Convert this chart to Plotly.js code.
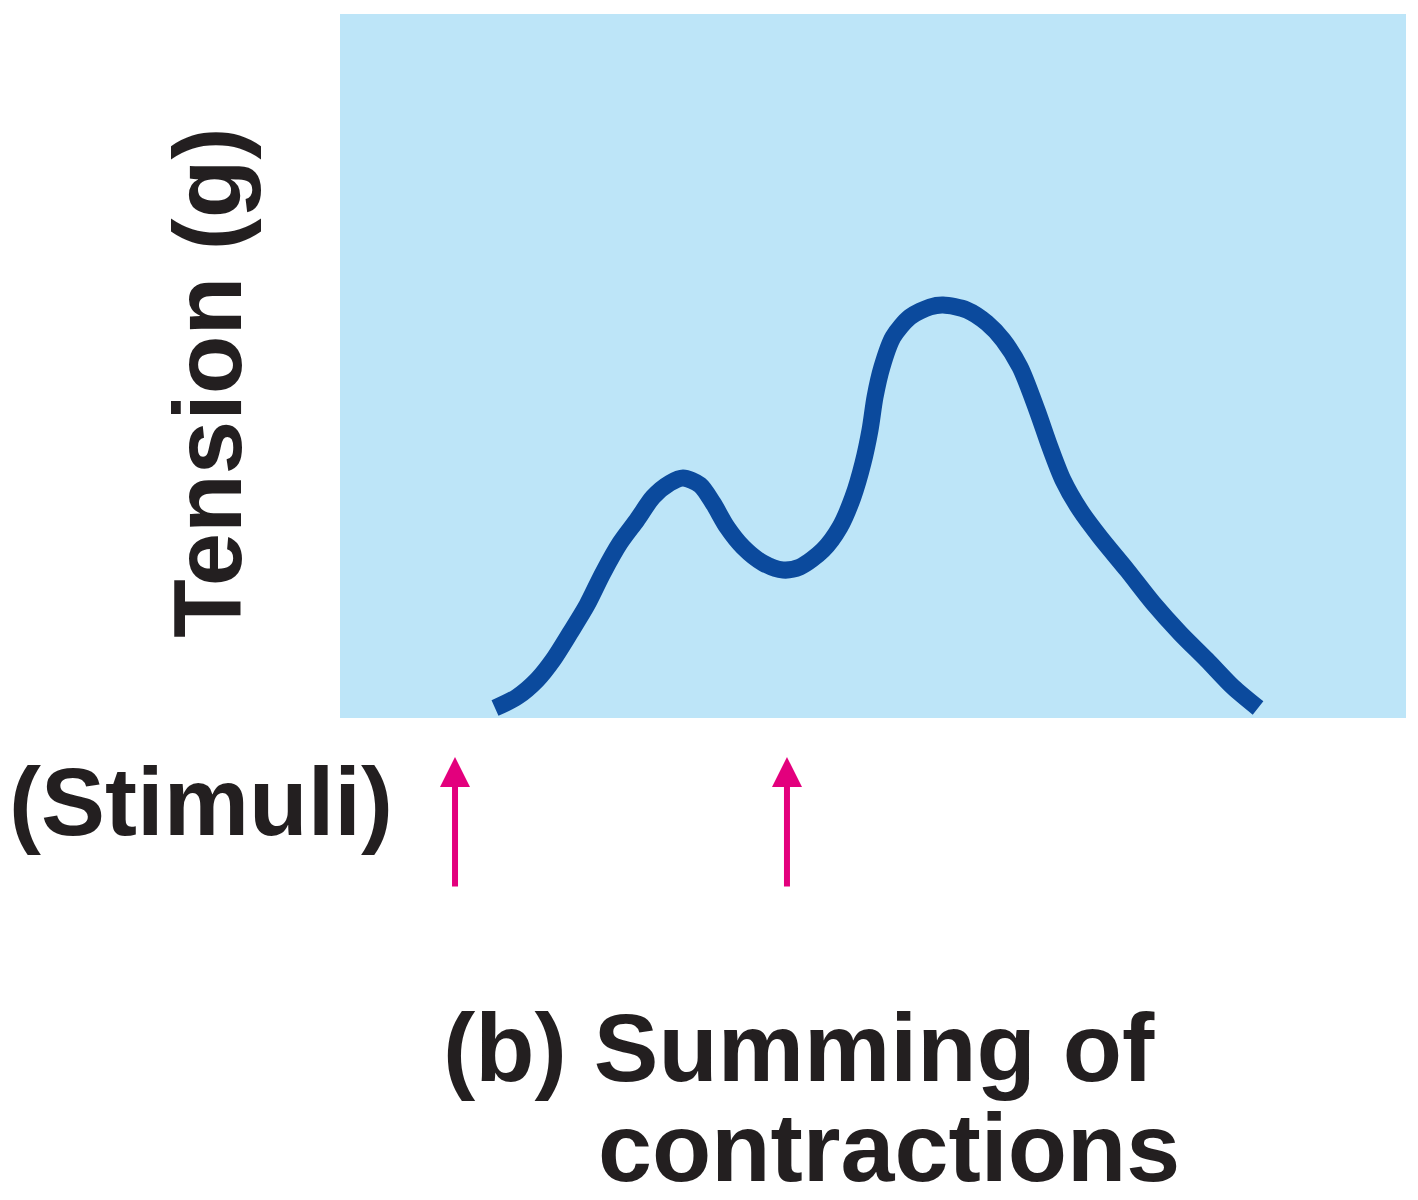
<!DOCTYPE html>
<html>
<head>
<meta charset="utf-8">
<script src="https://cdn.plot.ly/plotly-3.0.1.min.js"></script>
<style>
  html, body { margin: 0; padding: 0; background: #ffffff; }
  #chart { width: 1418px; height: 1200px; }
</style>
</head>
<body>
<div id="chart"></div>
<script>
// Time (arbitrary units, 0-100 across the panel)
const time = [14.54, 16.60, 18.48, 19.98, 21.58, 23.17, 24.67, 26.27, 27.86, 29.36,
              30.96, 32.18, 33.77, 34.99, 36.30, 37.80, 39.68, 41.56, 43.15, 45.31,
              46.90, 48.12, 49.06, 49.72, 50.19, 50.84, 51.88, 53.47, 55.35, 56.57,
              58.82, 60.69, 62.20, 63.79, 65.38, 66.60, 67.82, 69.42, 71.29, 73.83,
              76.27, 78.80, 81.33, 83.77, 86.12];
// Tension (arbitrary units, 0-100 across the panel)
const tension = [1.42, 2.98, 5.40, 8.24, 12.07, 16.05, 20.60, 24.86, 28.13, 31.39,
                 33.38, 34.09, 33.10, 30.54, 27.13, 24.29, 22.02, 21.02, 21.45, 23.86,
                 27.13, 31.39, 36.22, 40.91, 45.60, 49.86, 54.12, 56.96, 58.38, 58.66,
                 57.95, 56.11, 53.69, 49.86, 43.75, 38.49, 33.81, 29.55, 25.71, 21.02,
                 16.34, 12.07, 8.24, 4.40, 1.42];
// Stimulus times
const stimuli = [10.79, 41.93];

const yTitle = "Tension (g)";
const stimLabel = "(Stimuli)";
const captionLine1 = "(b) Summing of";
const captionLine2 = "contractions";

const FONT = "Liberation Sans, Arial, Helvetica, sans-serif";
const TEXT_COLOR = "#231f20";

const trace = {
  x: time,
  y: tension,
  type: "scatter",
  mode: "lines",
  line: { color: "#0b4a9d", width: 17, shape: "spline", smoothing: 0.8 },
  hoverinfo: "skip"
};

const annotations = [];
stimuli.forEach(s => {
  annotations.push({
    x: s, xref: "x",
    y: -0.0554, yref: "paper",
    ax: 0, ay: 131, axref: "pixel", ayref: "pixel",
    text: "",
    showarrow: true,
    arrowhead: 2,
    arrowsize: 1.0,
    arrowwidth: 6,
    arrowcolor: "#e3007d"
  });
});
annotations.push({
  x: -0.124, xref: "paper", xanchor: "center",
  y: 0.4759, yref: "paper", yanchor: "middle",
  text: yTitle, textangle: -90, showarrow: false,
  font: { family: FONT, size: 96, color: TEXT_COLOR, weight: 700 }
});
annotations.push({
  x: -0.312, xref: "paper", xanchor: "left",
  y: -0.119, yref: "paper", yanchor: "middle",
  text: stimLabel, showarrow: false,
  font: { family: FONT, size: 96, color: TEXT_COLOR, weight: 700 }
});
annotations.push({
  x: 0.0950, xref: "paper", xanchor: "left",
  y: -0.4680, yref: "paper", yanchor: "middle",
  text: captionLine1, showarrow: false,
  font: { family: FONT, size: 97, color: TEXT_COLOR, weight: 700 }
});
annotations.push({
  x: 0.2400, xref: "paper", xanchor: "left",
  y: -0.6100, yref: "paper", yanchor: "middle",
  text: captionLine2, showarrow: false,
  font: { family: FONT, size: 97, color: TEXT_COLOR, weight: 700 }
});

const layout = {
  width: 1418,
  height: 1200,
  margin: { l: 340, r: 12, t: 14, b: 482, pad: 0 },
  paper_bgcolor: "#ffffff",
  plot_bgcolor: "#bde5f8",
  showlegend: false,
  xaxis: {
    range: [0, 100], showgrid: false, zeroline: false, showline: false,
    showticklabels: false, ticks: "", fixedrange: true
  },
  yaxis: {
    range: [0, 100], showgrid: false, zeroline: false, showline: false,
    showticklabels: false, ticks: "", fixedrange: true
  },
  annotations: annotations
};

Plotly.newPlot("chart", [trace], layout, { displayModeBar: false, staticPlot: true });
</script>
</body>
</html>
